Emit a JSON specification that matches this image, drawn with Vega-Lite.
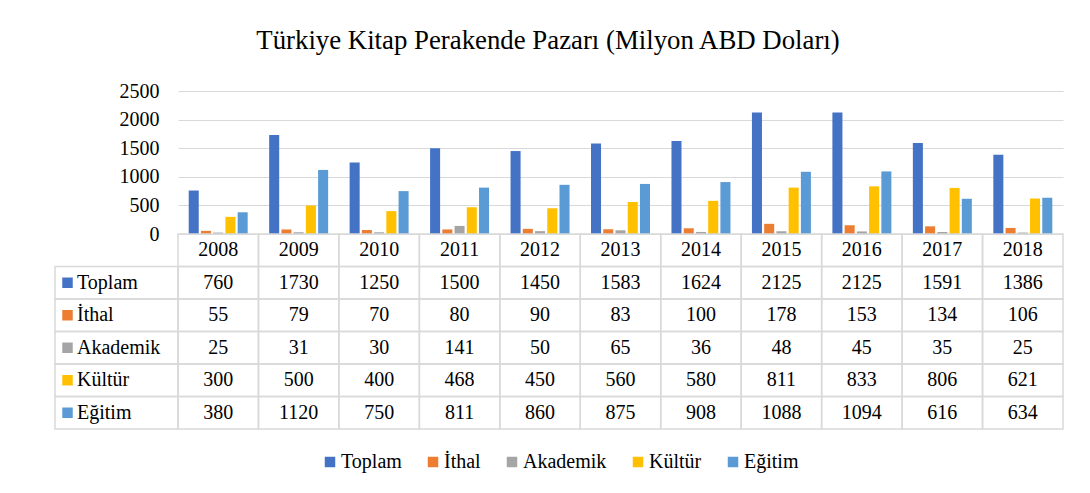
{
  "$schema": "https://vega.github.io/schema/vega-lite/v6.json",
  "padding": {"left": 54, "top": 28, "right": 28, "bottom": 5},
  "title": {"text": "Türkiye Kitap Perakende Pazarı (Milyon ABD Doları)", "font": "Liberation Serif", "fontSize": 26.8, "fontWeight": "normal", "color": "#000000", "anchor": "middle", "offset": 26, "dx": -11},
  "data": {"values": [
    {"year": "2008", "series": "Toplam", "value": 760},
    {"year": "2009", "series": "Toplam", "value": 1730},
    {"year": "2010", "series": "Toplam", "value": 1250},
    {"year": "2011", "series": "Toplam", "value": 1500},
    {"year": "2012", "series": "Toplam", "value": 1450},
    {"year": "2013", "series": "Toplam", "value": 1583},
    {"year": "2014", "series": "Toplam", "value": 1624},
    {"year": "2015", "series": "Toplam", "value": 2125},
    {"year": "2016", "series": "Toplam", "value": 2125},
    {"year": "2017", "series": "Toplam", "value": 1591},
    {"year": "2018", "series": "Toplam", "value": 1386},
    {"year": "2008", "series": "İthal", "value": 55},
    {"year": "2009", "series": "İthal", "value": 79},
    {"year": "2010", "series": "İthal", "value": 70},
    {"year": "2011", "series": "İthal", "value": 80},
    {"year": "2012", "series": "İthal", "value": 90},
    {"year": "2013", "series": "İthal", "value": 83},
    {"year": "2014", "series": "İthal", "value": 100},
    {"year": "2015", "series": "İthal", "value": 178},
    {"year": "2016", "series": "İthal", "value": 153},
    {"year": "2017", "series": "İthal", "value": 134},
    {"year": "2018", "series": "İthal", "value": 106},
    {"year": "2008", "series": "Akademik", "value": 25},
    {"year": "2009", "series": "Akademik", "value": 31},
    {"year": "2010", "series": "Akademik", "value": 30},
    {"year": "2011", "series": "Akademik", "value": 141},
    {"year": "2012", "series": "Akademik", "value": 50},
    {"year": "2013", "series": "Akademik", "value": 65},
    {"year": "2014", "series": "Akademik", "value": 36},
    {"year": "2015", "series": "Akademik", "value": 48},
    {"year": "2016", "series": "Akademik", "value": 45},
    {"year": "2017", "series": "Akademik", "value": 35},
    {"year": "2018", "series": "Akademik", "value": 25},
    {"year": "2008", "series": "Kültür", "value": 300},
    {"year": "2009", "series": "Kültür", "value": 500},
    {"year": "2010", "series": "Kültür", "value": 400},
    {"year": "2011", "series": "Kültür", "value": 468},
    {"year": "2012", "series": "Kültür", "value": 450},
    {"year": "2013", "series": "Kültür", "value": 560},
    {"year": "2014", "series": "Kültür", "value": 580},
    {"year": "2015", "series": "Kültür", "value": 811},
    {"year": "2016", "series": "Kültür", "value": 833},
    {"year": "2017", "series": "Kültür", "value": 806},
    {"year": "2018", "series": "Kültür", "value": 621},
    {"year": "2008", "series": "Eğitim", "value": 380},
    {"year": "2009", "series": "Eğitim", "value": 1120},
    {"year": "2010", "series": "Eğitim", "value": 750},
    {"year": "2011", "series": "Eğitim", "value": 811},
    {"year": "2012", "series": "Eğitim", "value": 860},
    {"year": "2013", "series": "Eğitim", "value": 875},
    {"year": "2014", "series": "Eğitim", "value": 908},
    {"year": "2015", "series": "Eğitim", "value": 1088},
    {"year": "2016", "series": "Eğitim", "value": 1094},
    {"year": "2017", "series": "Eğitim", "value": 616},
    {"year": "2018", "series": "Eğitim", "value": 634}
  ]},
  "columns": 2,
  "spacing": 0,
  "bounds": "flush",
  "concat": [
    {
      "width": 123, "height": 143,
      "transform": [{"filter": "datum.year == '2008' && datum.series == 'Toplam'"}],
      "mark": {"type": "text"},
      "encoding": {"text": {"value": ""}}
    },
    {
      "width": 885, "height": 143,
      "mark": {"type": "bar"},
      "encoding": {
        "x": {"field": "year", "type": "nominal", "scale": {"paddingInner": 0.267, "paddingOuter": 0.133}, "axis": null},
        "xOffset": {"field": "series", "type": "nominal", "sort": ["Toplam", "İthal", "Akademik", "Kültür", "Eğitim"], "scale": {"paddingInner": 0.18, "paddingOuter": 0}},
        "y": {"field": "value", "type": "quantitative", "scale": {"domain": [0, 2500], "nice": false},
              "axis": {"values": [0, 500, 1000, 1500, 2000, 2500], "format": "d", "grid": true, "gridColor": "#D9D9D9", "gridWidth": 1.2, "domain": false, "ticks": false, "tickSize": 0, "labelPadding": 19, "labelFont": "Liberation Serif", "labelFontSize": 20, "labelColor": "#000000", "title": null}},
        "color": {"field": "series", "type": "nominal",
                  "scale": {"domain": ["Toplam", "İthal", "Akademik", "Kültür", "Eğitim"], "range": ["#4472C4", "#ED7D31", "#A5A5A5", "#FFC000", "#5B9BD5"]},
                  "legend": {"orient": "bottom", "direction": "horizontal", "title": null, "symbolType": "square", "symbolSize": 110, "symbolStrokeWidth": 0, "labelFont": "Liberation Serif", "labelFontSize": 20, "labelColor": "#000000", "columnPadding": 21, "labelOffset": 1, "offset": 22}}
      }
    },
    {
      "width": 123, "height": 195,
      "transform": [{"filter": "datum.year == '2008'"}],
      "encoding": {
        "y": {"field": "series", "type": "nominal", "scale": {"domain": ["hdr", "Toplam", "İthal", "Akademik", "Kültür", "Eğitim"], "paddingInner": 0, "paddingOuter": 0}, "axis": null}
      },
      "layer": [
        {"mark": {"type": "rect", "filled": false, "stroke": "#D9D9D9", "strokeWidth": 1.5}},
        {"mark": {"type": "square", "size": 110, "opacity": 1, "xOffset": -49},
         "encoding": {"color": {"field": "series", "type": "nominal", "scale": {"domain": ["Toplam", "İthal", "Akademik", "Kültür", "Eğitim"], "range": ["#4472C4", "#ED7D31", "#A5A5A5", "#FFC000", "#5B9BD5"]}, "legend": null}}},
        {"mark": {"type": "text", "align": "left", "dx": -39.5, "font": "Liberation Serif", "fontSize": 20, "color": "#000000"},
         "encoding": {"text": {"field": "series", "type": "nominal"}}}
      ]
    },
    {
      "width": 885, "height": 195,
      "encoding": {
        "x": {"field": "year", "type": "nominal", "scale": {"paddingInner": 0, "paddingOuter": 0}, "axis": null},
        "y": {"field": "series", "type": "nominal", "scale": {"domain": ["hdr", "Toplam", "İthal", "Akademik", "Kültür", "Eğitim"], "paddingInner": 0, "paddingOuter": 0}, "axis": null}
      },
      "layer": [
        {"mark": {"type": "rect", "filled": false, "stroke": "#D9D9D9", "strokeWidth": 1.5}},
        {"transform": [{"filter": "datum.series == 'Toplam'"}],
         "mark": {"type": "rect", "filled": false, "stroke": "#D9D9D9", "strokeWidth": 1.5},
         "encoding": {"y": {"datum": "hdr", "type": "nominal"}}},
        {"mark": {"type": "text", "font": "Liberation Serif", "fontSize": 20, "color": "#000000"},
         "encoding": {"text": {"field": "value", "type": "quantitative", "format": "d"}}},
        {"transform": [{"filter": "datum.series == 'Toplam'"}],
         "mark": {"type": "text", "font": "Liberation Serif", "fontSize": 20, "color": "#000000"},
         "encoding": {"y": {"datum": "hdr", "type": "nominal"}, "text": {"field": "year", "type": "nominal"}}}
      ]
    }
  ],
  "config": {
    "view": {"stroke": null},
    "font": "Liberation Serif",
    "legend": {"layout": {"bottom": {"anchor": "middle"}}}
  }
}
